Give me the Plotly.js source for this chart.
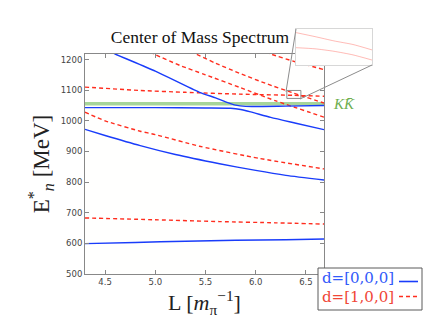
<!DOCTYPE html>
<html>
<head>
<meta charset="utf-8">
<script src="https://cdn.plot.ly/plotly-3.0.1.min.js"></script>
<style>body{margin:0;} #plot{width:427px;height:320px;}</style>
</head>
<body>
<div id="plot"></div>
<script>
// ------------------------
// d=[0,0,0] levels (solid blue):
var L_b1 = [4.3, 4.8, 5.3, 5.8, 6.3, 6.68];
var E_b1 = [599, 603, 607, 610, 612, 614];
var L_b2 = [4.3, 4.5, 4.85, 5.2, 5.64, 6.0, 6.3, 6.68];
var E_b2 = [972, 952, 919, 890, 860, 838, 822, 807];
var L_b3 = [4.3, 5.0, 5.5, 5.75, 5.85, 5.95, 6.15, 6.4, 6.68];
var E_b3 = [1043, 1043, 1042, 1041, 1037, 1029, 1011, 992, 971];
var L_b4 = [4.55, 4.6, 5.0, 5.44, 5.6, 5.7, 5.8, 5.9, 6.3, 6.68];
var E_b4 = [1226, 1218, 1162, 1093, 1075, 1062, 1051, 1047, 1048, 1050];
// ------------------------
// d=[1,0,0] levels (dashed red):
var L_r1 = [4.3, 5.0, 5.64, 6.2, 6.68];
var E_r1 = [683, 677, 671, 667, 663];
var L_r2 = [4.3, 4.5, 4.85, 5.0, 5.44, 6.04, 6.68];
var E_r2 = [1028, 1000, 966, 955, 917, 877, 843];
var L_r3 = [4.3, 4.85, 5.3, 5.84, 6.38, 6.68];
var E_r3 = [1110, 1099, 1093, 1087, 1083, 1080];
var L_r4 = [4.95, 5.0, 5.25, 5.5, 5.84, 6.2, 6.68];
var E_r4 = [1225, 1216, 1180, 1150, 1109, 1065, 1012];
var L_r5 = [5.35, 5.41, 5.6, 5.84, 6.1, 6.38, 6.68];
var E_r5 = [1225, 1217, 1188, 1155, 1122, 1090, 1058];
var L_r6 = [6.1, 6.15, 6.4, 6.68];
var E_r6 = [1225, 1218, 1192, 1167];
// ------------------------
// K Kbar threshold band:
var L_kk = [4.3, 6.68];
var E_kk = [1056, 1056];
// ------------------------
// zoomed inset (two close red levels):
var L_in = [6.31, 6.345, 6.38, 6.415, 6.45];
var E_inUp = [1096.4, 1093.5, 1090.4, 1087.8, 1083.9];
var E_inLo = [1085.5, 1084.7, 1082.9, 1080.3, 1076.6];
// ------------------------
// ticks:
var xTickVals = [4.5, 5.0, 5.5, 6.0, 6.5];
var xTickText = ['4.5', '5.0', '5.5', '6.0', '6.5'];
var yTickVals = [500, 600, 700, 800, 900, 1000, 1100, 1200];

var blue = 'rgb(25,60,250)';
var red = 'rgb(255,45,30)';

// pixel -> paper helpers (paper spans x 85..427, y 20..274)
function px(x) { return (x - 85) / 342; }
function py(y) { return (274 - y) / 254; }

function level(x, y, col, dash) {
  return {x: x, y: y, type: 'scatter', mode: 'lines',
    line: {color: col, width: 1.4, dash: dash, shape: 'spline', smoothing: 0.6},
    showlegend: false, hoverinfo: 'skip'};
}

var data = [
  {x: L_kk, y: E_kk, type: 'scatter', mode: 'lines',
   line: {color: 'rgba(120,190,100,0.65)', width: 3.5}, showlegend: false, hoverinfo: 'skip'},
  level(L_r1, E_r1, red, '4px,3px'),
  level(L_r2, E_r2, red, '4px,3px'),
  level(L_r3, E_r3, red, '4px,3px'),
  level(L_r4, E_r4, red, '4px,3px'),
  level(L_r5, E_r5, red, '4px,3px'),
  level(L_r6, E_r6, red, '4px,3px'),
  level(L_b1, E_b1, blue, 'solid'),
  level(L_b2, E_b2, blue, 'solid'),
  level(L_b3, E_b3, blue, 'solid'),
  level(L_b4, E_b4, blue, 'solid')
];
var insetUp = level(L_in, E_inUp, 'rgba(255,60,50,0.35)', 'solid');
var insetLo = level(L_in, E_inLo, 'rgba(255,60,50,0.35)', 'solid');
insetUp.xaxis = 'x2'; insetUp.yaxis = 'y2'; insetUp.line.width = 1;
insetLo.xaxis = 'x2'; insetLo.yaxis = 'y2'; insetLo.line.width = 1;
data.push(insetUp, insetLo);

var tickFont = {family: 'DejaVu Sans', size: 8.5, color: '#444'};
var layout = {
  width: 427, height: 320,
  margin: {l: 85, r: 0, t: 20, b: 46},
  paper_bgcolor: 'white',
  plot_bgcolor: 'rgb(255,255,254)',
  title: {text: 'Center of Mass Spectrum', font: {family: 'Liberation Serif', size: 17.5, color: '#111'},
          x: 200 / 427, xref: 'container', xanchor: 'center', y: 1 - 37 / 320, yref: 'container', yanchor: 'middle'},
  xaxis: {domain: [0, 239 / 342], range: [4.3, 6.68], tickvals: xTickVals, ticktext: xTickText,
          ticks: 'inside', ticklen: 4, tickcolor: '#888', showline: true, linecolor: '#888', mirror: 'ticks',
          showgrid: false, zeroline: false, tickfont: tickFont, automargin: false,
          title: {text: 'L [<i>m</i><sub>π</sub><sup>−1</sup>]', font: {family: 'Liberation Serif', size: 22, color: '#222'}, standoff: 2}},
  yaxis: {domain: [0, 220 / 254], range: [500, 1218], tickvals: yTickVals,
          ticks: 'inside', ticklen: 4, tickcolor: '#888', showline: true, linecolor: '#888', mirror: 'ticks',
          showgrid: false, zeroline: false, tickfont: tickFont, automargin: false,
          title: {text: 'E<sup>*</sup><sub><i>n</i></sub> [MeV]', font: {family: 'Liberation Serif', size: 23, color: '#222'}, standoff: 4}},
  xaxis2: {domain: [px(296), px(372)], anchor: 'y2', range: [6.31, 6.45], showticklabels: false, ticks: '',
           showline: true, mirror: true, linecolor: 'rgb(215,215,215)', showgrid: false, zeroline: false},
  yaxis2: {domain: [py(65), py(29)], anchor: 'x2', range: [1073, 1099], showticklabels: false, ticks: '',
           showline: true, mirror: true, linecolor: 'rgb(215,215,215)', showgrid: false, zeroline: false},
  shapes: [
    // zoom box + connectors
    {type: 'rect', xref: 'x', yref: 'y', x0: 6.31, x1: 6.45, y0: 1073, y1: 1099, line: {color: 'rgb(140,140,140)', width: 1}},
    {type: 'line', xref: 'paper', yref: 'paper', x0: px(296), y0: py(29), x1: px(286), y1: py(91.7), line: {color: 'rgb(140,140,140)', width: 1}},
    {type: 'line', xref: 'paper', yref: 'paper', x0: px(372), y0: py(65), x1: px(300), y1: py(99), line: {color: 'rgb(140,140,140)', width: 1}},
    // legend box
    {type: 'rect', xref: 'paper', yref: 'paper', x0: px(318), x1: px(422), y0: py(310), y1: py(268),
     line: {color: 'rgb(90,90,90)', width: 1}, fillcolor: 'white'},
    {type: 'line', xref: 'paper', yref: 'paper', x0: px(399), x1: px(418), y0: py(281.5), y1: py(281.5), line: {color: blue, width: 1.6}},
    {type: 'line', xref: 'paper', yref: 'paper', x0: px(399), x1: px(418), y0: py(296.5), y1: py(296.5), line: {color: red, width: 1.6, dash: '4px,3px'}}
  ],
  annotations: [
    {text: '<i>KK̄</i>', xref: 'paper', yref: 'paper', x: px(331), y: py(104), xanchor: 'left', yanchor: 'middle',
     showarrow: false, font: {family: 'Liberation Serif', size: 15, color: 'rgb(110,175,80)'}},
    {text: 'd=[0,0,0]', xref: 'paper', yref: 'paper', x: px(320), y: py(278), xanchor: 'left', yanchor: 'middle',
     showarrow: false, font: {family: 'DejaVu Serif', size: 15, color: 'rgb(50,90,250)'}},
    {text: 'd=[1,0,0]', xref: 'paper', yref: 'paper', x: px(320), y: py(296.5), xanchor: 'left', yanchor: 'middle',
     showarrow: false, font: {family: 'DejaVu Serif', size: 15, color: 'rgb(240,70,55)'}}
  ]
};

Plotly.newPlot('plot', data, layout, {displayModeBar: false, staticPlot: true});
</script>
</body>
</html>
